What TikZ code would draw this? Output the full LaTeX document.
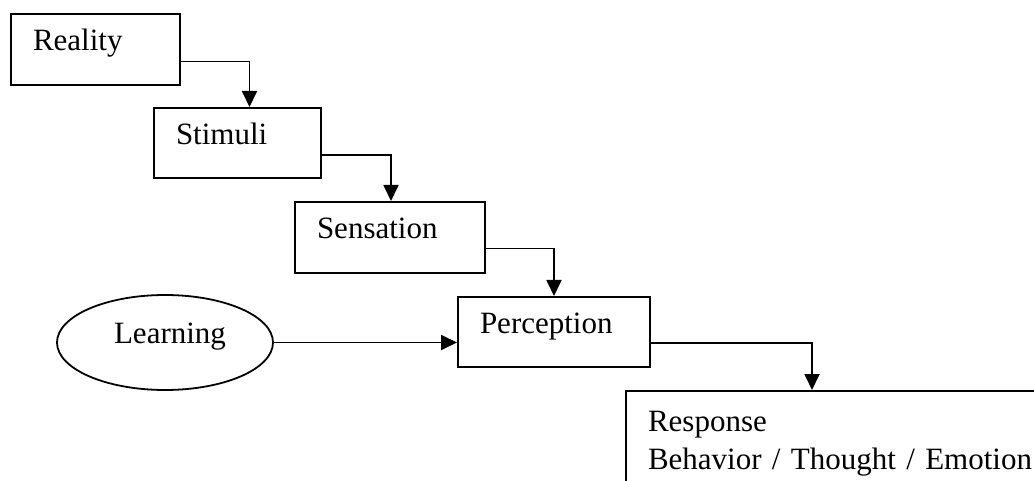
\documentclass[tikz,border=0pt]{standalone}
\usepackage{fontspec}
\setmainfont{Liberation Serif}
\usetikzlibrary{arrows.meta,shapes.geometric}

\tikzset{
    >={Triangle[length=16pt,width=15pt]},
    stagebox/.style={draw, line width=2pt, rectangle, anchor=north west, align=left,
        inner xsep=22pt, inner ysep=0pt},
    oneline/.style={text height=0.7em, text depth=0.41em},
    link/.style={line width=1.8pt}
}

\begin{document}
\begin{tikzpicture}[x=1pt,y=-1pt,font=\fontsize{31}{38}\selectfont]
    \useasboundingbox (0,0) rectangle (1034,481);
    \clip (0,0) rectangle (1034,481);

    % the chain of boxes, stepping down to the right
    \node[stagebox,oneline,text width=125pt,minimum height=71pt] (reality) at (10,13) {Reality};
    \node[stagebox,oneline,text width=123pt,minimum height=70pt] (stimuli) at (153,107) {Stimuli};
    \node[stagebox,oneline,text width=146pt,minimum height=71pt] (sensation) at (294,201) {Sensation};
    \node[stagebox,oneline,text width=148pt,minimum height=70pt] (perception) at (457,296) {Perception};

    % last box runs past the page edge
    \node[stagebox,text width=420pt,inner ysep=20pt] (response) at (625,390)
        {Response\\Behavior / Thought / Emotion};

    % learning feeds perception from the left
    \node[draw,line width=1.8pt,ellipse,oneline,minimum width=216pt,minimum height=95pt,
        inner sep=0pt] (learning) at (165,342.5) {\hspace{10pt}Learning};

    % elbow arrows between the boxes
    \draw[link,->] ([yshift=-12pt]reality.east) -| ([xshift=12pt]stimuli.north);
    \draw[link,->] ([yshift=-12pt]stimuli.east) -| ([xshift=1pt]sensation.north);
    \draw[link,->] ([yshift=-11pt]sensation.east) -| (perception.north);
    \draw[link,->] ([yshift=-11pt]perception.east) -| ([xshift=187pt]response.north west);

    % learning -> perception
    \draw[link,->] (learning.east) -- (learning.east -| perception.west);
\end{tikzpicture}
\end{document}
